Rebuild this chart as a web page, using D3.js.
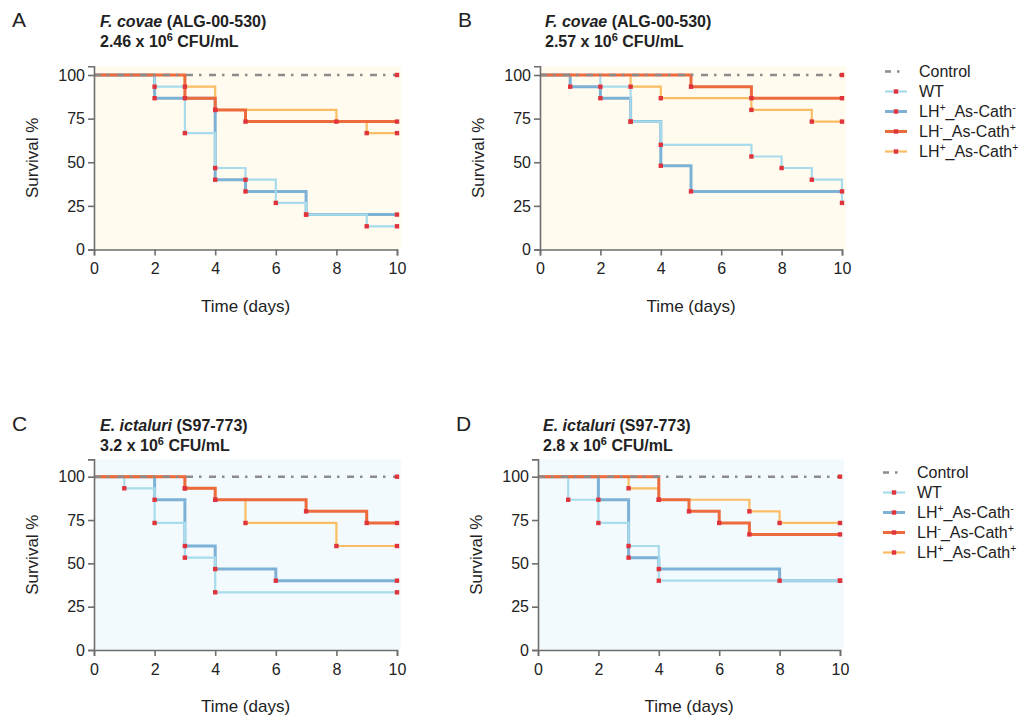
<!DOCTYPE html>
<html><head><meta charset="utf-8">
<script src="https://cdn.jsdelivr.net/npm/d3@7"></script>
<style>body{margin:0;background:#fff}svg{display:block}text{font-family:"Liberation Sans",Arial,sans-serif;fill:#222}</style>
</head><body><svg id="c" width="1018" height="715"></svg>
<script>
// ---- data ----
const xTicks = [0, 2, 4, 6, 8, 10];
const yTicks = [0, 25, 50, 75, 100];
const seriesNames = ["Control", "WT", "LH+_As-Cath-", "LH-_As-Cath+", "LH+_As-Cath+"];
const panelLetters = ["A", "B", "C", "D"];
const speciesNames = ["F. covae", "F. covae", "E. ictaluri", "E. ictaluri"];
const strainNames = ["(ALG-00-530)", "(ALG-00-530)", "(S97-773)", "(S97-773)"];
const doses = ["2.46", "2.57", "3.2", "2.8"];

const A_control = [[0,100]];
const A_wt      = [[0,100],[2,93.3],[3,66.7],[4,46.7],[5,40],[6,26.7],[7,20],[9,13.3]];
const A_lhPcM   = [[0,100],[2,86.7],[4,40],[5,33.3],[7,20]];
const A_lhMcP   = [[0,100],[3,86.7],[4,80],[5,73.3]];
const A_lhPcP   = [[0,100],[3,93.3],[4,80],[8,73.3],[9,66.7]];

const B_control = [[0,100]];
const B_wt      = [[0,100],[2,93.3],[3,73.3],[4,60],[7,53.3],[8,46.7],[9,40],[10,26.7]];
const B_lhPcM   = [[0,100],[1,93.3],[2,86.7],[3,73.3],[4,48],[5,33.3]];
const B_lhMcP   = [[0,100],[5,93.3],[7,86.7]];
const B_lhPcP   = [[0,100],[3,93.3],[4,86.7],[7,80],[9,73.3]];

const C_control = [[0,100]];
const C_wt      = [[0,100],[1,93.3],[2,73.3],[3,53.3],[4,33.3]];
const C_lhPcM   = [[0,100],[2,86.7],[3,60],[4,46.7],[6,40]];
const C_lhMcP   = [[0,100],[3,93.3],[4,86.7],[7,80],[9,73.3]];
const C_lhPcP   = [[0,100],[3,93.3],[4,86.7],[5,73.3],[8,60]];

const D_control = [[0,100]];
const D_wt      = [[0,100],[1,86.7],[2,73.3],[3,60],[4,40]];
const D_lhPcM   = [[0,100],[2,86.7],[3,53.3],[4,46.7],[8,40]];
const D_lhMcP   = [[0,100],[4,86.7],[5,80],[6,73.3],[7,66.7]];
const D_lhPcP   = [[0,100],[3,93.3],[4,86.7],[7,80],[8,73.3]];

// ---- layout / style ----
const colors = {"Control":"#8c8c8c","WT":"#a8dbeb","LH+_As-Cath-":"#7db1d6","LH-_As-Cath+":"#ec6a3c","LH+_As-Cath+":"#fbbd63"};
const widths = {"Control":2.5,"WT":2.2,"LH+_As-Cath-":3,"LH-_As-Cath+":3,"LH+_As-Cath+":2.2};
const dotColor = "#e0343c";
const drawOrder = ["LH+_As-Cath-","WT","LH+_As-Cath+","LH-_As-Cath+","Control"];

const panels = [
  {x0:94, x1:397, y0:249.5, y100:75, ymax:105, bg:"#fffbef", tx:100, ty:27, lx:12, series:[A_control,A_wt,A_lhPcM,A_lhMcP,A_lhPcP]},
  {x0:540, x1:842, y0:249.5, y100:75, ymax:105, bg:"#fffbef", tx:545, ty:27, lx:458, series:[B_control,B_wt,B_lhPcM,B_lhMcP,B_lhPcP], legendY:77},
  {x0:94, x1:397, y0:650, y100:476.7, ymax:110, bg:"#f2fafd", tx:100, ty:431, lx:12, series:[C_control,C_wt,C_lhPcM,C_lhMcP,C_lhPcP]},
  {x0:538, x1:840, y0:650, y100:476.7, ymax:110, bg:"#f2fafd", tx:543, ty:431, lx:456, series:[D_control,D_wt,D_lhPcM,D_lhMcP,D_lhPcP], legendY:478}
];

const svg = d3.select("#c");

function addLabel(sel, name, size) {
  const m = name.match(/^LH([+-])_As-Cath([+-])$/);
  if (!m) { sel.text(name); return; }
  sel.append("tspan").text("LH");
  sel.append("tspan").text(m[1]).attr("font-size", size*0.65).attr("dy", -6);
  sel.append("tspan").text("_As-Cath").attr("dy", 6);
  sel.append("tspan").text(m[2]).attr("font-size", size*0.65).attr("dy", -6);
}

panels.forEach((p, i) => {
  const x = d3.scaleLinear().domain([0, 10]).range([p.x0, p.x1]);
  const y = d3.scaleLinear().domain([0, 100]).range([p.y0, p.y100]);
  const g = svg.append("g");

  g.append("rect").attr("x", x(0)).attr("y", y(p.ymax))
    .attr("width", x(10) - x(0) + 4).attr("height", y(0) - y(p.ymax)).attr("fill", p.bg);

  const line = d3.line().x(d => x(d[0])).y(d => y(d[1])).curve(d3.curveStepAfter);
  const byName = {};
  seriesNames.forEach((n, k) => byName[n] = p.series[k]);
  drawOrder.forEach(n => {
    const pts = byName[n].slice();
    const last = pts[pts.length - 1];
    if (last[0] < 10) pts.push([10, last[1]]);
    const path = g.append("path").attr("d", line(pts)).attr("fill", "none")
      .attr("stroke", colors[n]).attr("stroke-width", widths[n]);
    if (n === "Control") path.attr("stroke-dasharray", "7,6,2.5,7.5");
  });
  drawOrder.forEach(n => {
    const pts = byName[n];
    const marks = pts.slice(1);
    const last = pts[pts.length - 1];
    if (last[0] < 10 || marks.length === 0) marks.push([10, last[1]]);
    g.selectAll(null).data(marks).enter().append("rect")
      .attr("x", d => x(d[0]) - 2.2).attr("y", d => y(d[1]) - 2.2)
      .attr("width", 4.4).attr("height", 4.4).attr("fill", dotColor);
  });

  const xa = g.append("g").attr("transform", `translate(0,${p.y0})`)
    .call(d3.axisBottom(x).tickValues(xTicks).tickSize(6).tickPadding(4).tickFormat(d3.format("d")));
  const ya = g.append("g").attr("transform", `translate(${p.x0},0)`)
    .call(d3.axisLeft(d3.scaleLinear().domain([0, p.ymax]).range([p.y0, y(p.ymax)]))
      .tickValues(yTicks).tickSize(6).tickPadding(3).tickFormat(d3.format("d")));
  [xa, ya].forEach(a => {
    a.select(".domain").attr("stroke", "#6e6e6e").attr("stroke-width", 1.6);
    a.selectAll(".tick line").attr("stroke", "#6e6e6e").attr("stroke-width", 1.6);
    a.selectAll(".tick text").attr("font-size", 16).attr("fill", "#222")
      .attr("font-family", '"Liberation Sans",Arial,sans-serif');
  });
  xa.selectAll(".tick text").attr("dy", "0.92em");

  g.append("text").attr("x", (p.x0 + p.x1) / 2).attr("y", p.y0 + 62)
    .attr("text-anchor", "middle").attr("font-size", 17).text("Time (days)");
  g.append("text").attr("transform", `translate(${p.x0 - 56},${(p.y0 + y(p.ymax)) / 2}) rotate(-90)`)
    .attr("text-anchor", "middle").attr("font-size", 17).text("Survival %");

  g.append("text").attr("x", p.lx).attr("y", p.ty).attr("font-size", 21).text(panelLetters[i]);
  const t1 = g.append("text").attr("x", p.tx).attr("y", p.ty).attr("font-size", 16).attr("font-weight", "bold");
  t1.append("tspan").attr("font-style", "italic").text(speciesNames[i]);
  t1.append("tspan").text(" " + strainNames[i]);
  const t2 = g.append("text").attr("x", p.tx).attr("y", p.ty + 20).attr("font-size", 16).attr("font-weight", "bold");
  t2.append("tspan").text(doses[i] + " x 10");
  t2.append("tspan").text("6").attr("font-size", 11).attr("dy", -6);
  t2.append("tspan").text(" CFU/mL").attr("dy", 6);

  if (p.legendY !== undefined) {
    const lg = svg.append("g");
    seriesNames.forEach((n, k) => {
      const by = p.legendY + k * 20;
      const cy = by - 5.5;
      const sx = p.x1 + 43;
      if (n === "Control") {
        lg.append("line").attr("x1", sx).attr("x2", sx + 22).attr("y1", cy).attr("y2", cy)
          .attr("stroke", colors[n]).attr("stroke-width", 2.5).attr("stroke-dasharray", "6,6,2.5,8");
      } else {
        lg.append("line").attr("x1", sx).attr("x2", sx + 22).attr("y1", cy).attr("y2", cy)
          .attr("stroke", colors[n]).attr("stroke-width", widths[n]);
        lg.append("rect").attr("x", sx + 11 - 2.2).attr("y", cy - 2.2).attr("width", 4.4).attr("height", 4.4).attr("fill", dotColor);
      }
      const t = lg.append("text").attr("x", sx + 34).attr("y", by).attr("font-size", 16);
      addLabel(t, n, 16);
    });
  }
});
</script></body></html>
